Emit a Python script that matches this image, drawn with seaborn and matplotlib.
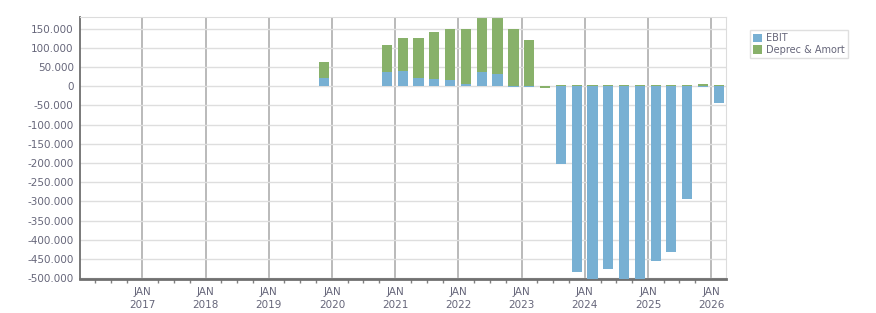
import numpy as np
import pandas as pd
import matplotlib
matplotlib.use('Agg')
import matplotlib.pyplot as plt
import matplotlib.dates as mdates
import matplotlib.ticker as mticker
from matplotlib.patches import Patch
import seaborn as sns

# Dati trimestrali
periodi = ['2019-11-15', '2020-11-15', '2021-02-15', '2021-05-15', '2021-08-15',
           '2021-11-15', '2022-02-15', '2022-05-15', '2022-08-15', '2022-11-15',
           '2023-02-15', '2023-05-15', '2023-08-15', '2023-11-15', '2024-02-15',
           '2024-05-15', '2024-08-15', '2024-11-15', '2025-02-15', '2025-05-15',
           '2025-08-15', '2025-11-15', '2026-02-15']
ebit = [21000, 36000, 39000, 21000, 18000, 16000, 5000, 36000, 31000, -3000,
        -2000, 0, -203000, -484000, -530000, -476000, -540000, -520000, -455000,
        -432000, -294000, -1000, -44000]
deprec_amort = [42000, 71000, 86000, 104000, 122000, 132000, 143000, 141000, 146000,
                148000, 120000, -4000, 2000, 2000, 2000, 2000, 2000, 2000, 2000, 2000,
                2000, 5000, 2000]
serie = ['EBIT', 'Deprec & Amort']

col_ebit = '#78b0d3'
col_da = '#88b16a'
col_testo = '#66667a'

df = pd.DataFrame({'data': pd.to_datetime(periodi), 'ebit': ebit, 'da': deprec_amort})
df['x'] = mdates.date2num(df['data'])
# cima della barra verde impilata sopra (o sotto) l'EBIT
df['da_top'] = np.where(df['da'] > 0, df['ebit'].clip(lower=0) + df['da'],
                        df['ebit'].clip(upper=0) + df['da'])

sns.set_style('white')
plt.rcParams['font.family'] = ['DejaVu Sans']

fig = plt.figure(figsize=(8.76, 3.13), dpi=100)
ax = fig.add_axes([80 / 876, 1 - 279 / 313, (726 - 80) / 876, (279 - 17) / 313])

sns.barplot(x=df['x'], y=df['da_top'], native_scale=True, color=col_da,
            saturation=1, width=0.66, errorbar=None, ax=ax, zorder=2,
            edgecolor='none', linewidth=0)
sns.barplot(x=df['x'], y=df['ebit'], native_scale=True, color=col_ebit,
            saturation=1, width=0.66, errorbar=None, ax=ax, zorder=3,
            edgecolor='none', linewidth=0)

ax.set_xlim(mdates.date2num(pd.Timestamp('2016-01-06')),
            mdates.date2num(pd.Timestamp('2026-03-27')))
ax.set_ylim(-502000, 180000)

anni = list(range(2017, 2027))
ax.set_xticks([mdates.date2num(pd.Timestamp(f'{a}-01-01')) for a in anni])
ax.set_xticklabels([f'JAN\n{a}' for a in anni])
ax.xaxis.set_minor_locator(mdates.MonthLocator(bymonth=[1, 4, 7, 10]))

ax.set_yticks(np.arange(-500000, 150001, 50000))
ax.yaxis.set_major_formatter(mticker.FuncFormatter(lambda v, p: f'{int(v):,}'.replace(',', '.')))

ax.set_xlabel('')
ax.set_ylabel('')
ax.set_axisbelow(True)
ax.grid(axis='y', color='#dedede', linewidth=1, zorder=0)
ax.grid(axis='x', which='major', color='#b4b4b4', linewidth=1.3, zorder=0)

ax.tick_params(axis='both', labelsize=7.5, labelcolor=col_testo, colors='#808080')
ax.tick_params(axis='x', which='major', length=5, width=1.2, pad=1)
ax.tick_params(axis='x', which='minor', length=3, width=1, bottom=True, color='#808080')
ax.tick_params(axis='y', length=3.5, width=1, pad=1)
for lab in ax.get_xticklabels():
    lab.set_linespacing(1.3)

ax.spines['left'].set_color('#6e6e6e')
ax.spines['left'].set_linewidth(1.3)
ax.spines['bottom'].set_color('#707070')
ax.spines['bottom'].set_linewidth(2)
ax.spines['top'].set_color('#dcdcdc')
ax.spines['right'].set_color('#dcdcdc')

handles = [Patch(facecolor=col_ebit, edgecolor='none'), Patch(facecolor=col_da, edgecolor='none')]
leg = ax.legend(handles, serie, loc='upper left', bbox_to_anchor=(750 / 876, 1 - 30 / 313),
                bbox_transform=fig.transFigure, borderaxespad=0, fontsize=7,
                frameon=True, fancybox=False, edgecolor='#d8d8d8', handlelength=0.9,
                handleheight=0.9, handletextpad=0.4, labelspacing=0.15, borderpad=0.35)
for t in leg.get_texts():
    t.set_color(col_testo)
leg.get_frame().set_linewidth(1)

fig.savefig('out.png', dpi=100)
